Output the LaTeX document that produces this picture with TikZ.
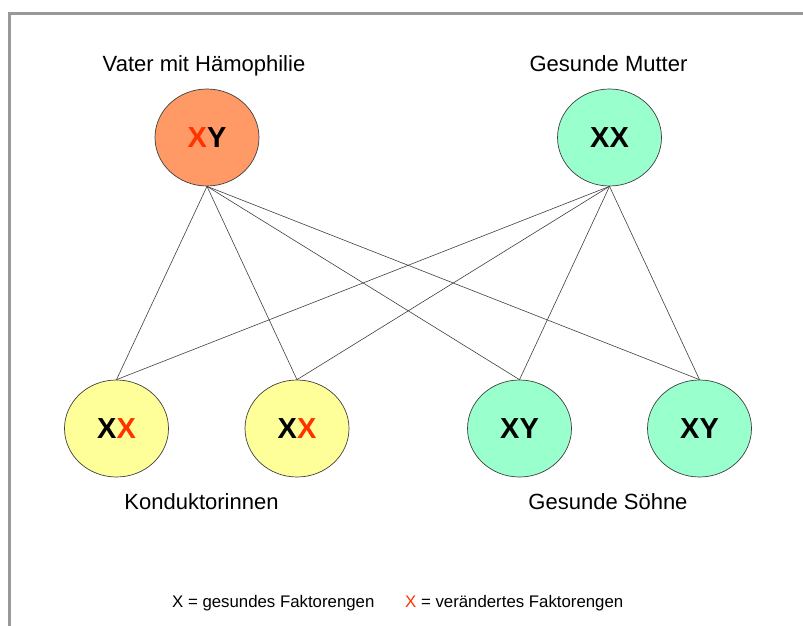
\documentclass[tikz,border=0pt]{standalone}
\usepackage{fontspec}
\setmainfont{Liberation Sans}
\usetikzlibrary{shapes.geometric}
\definecolor{frame}{HTML}{999999}
\definecolor{orangefill}{HTML}{FF9966}
\definecolor{greenfill}{HTML}{99FFCC}
\definecolor{yellowfill}{HTML}{FFFF99}
\definecolor{redx}{HTML}{FF3300}
\definecolor{linegray}{HTML}{404040}
\tikzset{
  person/.style={ellipse, draw=black!75, line width=0.7pt, minimum width=104pt, minimum height=97pt, inner sep=0pt, font=\fontsize{29}{30}\selectfont\bfseries},
  caption/.style={anchor=base, inner sep=0pt, font=\fontsize{22}{24}\selectfont},
  legend/.style={anchor=base west, inner sep=0pt, font=\fontsize{16.8}{18}\selectfont},
  link/.style={draw=linegray, line width=0.6pt}
}
\begin{document}
\begin{tikzpicture}[x=1pt,y=-1pt]
\useasboundingbox (0,0) rectangle (803,626);
\fill[white] (0,0) rectangle (803,626);
\draw[frame, line width=3pt] (9.5,626) -- (9.5,13.5) -- (803,13.5);

\node[caption] (tf) at (204,72) {Vater mit Hämophilie};
\node[caption] (tm) at (608.5,72) {Gesunde Mutter};
\node[caption] (tk) at (201.5,509) {Konduktorinnen};
\node[caption] (ts) at (608,509) {Gesunde Söhne};

\node[person, fill=orangefill] (f) at (207,137.5) {\textcolor{redx}{X}Y};
\node[person, fill=greenfill] (m) at (609.5,137.5) {XX};
\node[person, fill=yellowfill] (c1) at (116.5,428.5) {X\textcolor{redx}{X}};
\node[person, fill=yellowfill] (c2) at (297,428.5) {X\textcolor{redx}{X}};
\node[person, fill=greenfill] (c3) at (519.5,428.5) {XY};
\node[person, fill=greenfill] (c4) at (699.5,428.5) {XY};

\foreach \c in {c1,c2,c3,c4}{
  \draw[link] (f.south) -- (\c.north);
  \draw[link] (m.south) -- (\c.north);
}

\node[legend] (l1) at (172,607) {X = gesundes Faktorengen};
\node[legend] (l2) at (405,607) {\textcolor{redx}{X} = verändertes Faktorengen};
\end{tikzpicture}
\end{document}
